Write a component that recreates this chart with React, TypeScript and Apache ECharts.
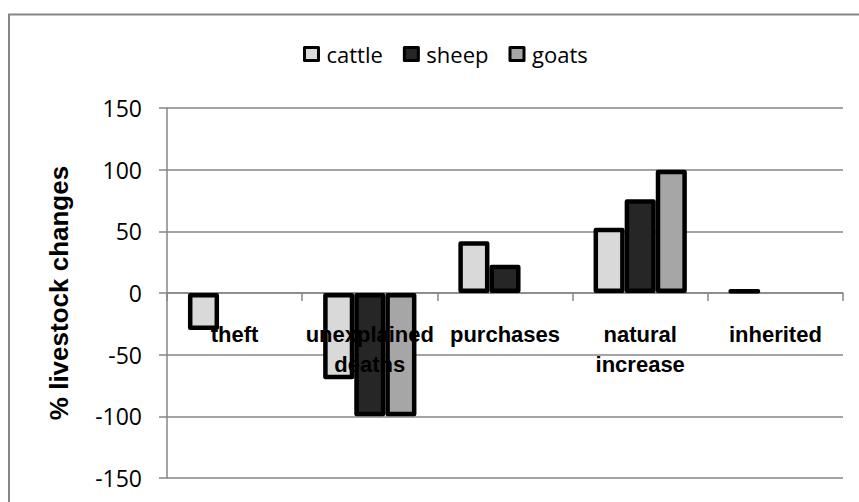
import React, { useEffect, useRef } from "react";
import * as echarts from "echarts";

const categories = ["theft", "unexplained\ndeaths", "purchases", "natural\nincrease", "inherited"];
const seriesNames = ["cattle", "sheep", "goats"];
const cattle = [-30, -70, 42, 53, 3];
const sheep = [null, -100, 23, 76, null];
const goats = [null, -100, null, 100, null];
const colors = ["#d9d9d9", "#262626", "#a6a6a6"];
const yTicks = { min: -150, max: 150, interval: 50 };

export default function App() {
  const ref = useRef<HTMLDivElement>(null);
  useEffect(() => {
    if (!ref.current) return;
    const chart = echarts.init(ref.current, null, { renderer: "svg" });
    const values = [cattle, sheep, goats];
    const gray = "#868686";
    const gridTop = 108;
    const gridBottom = 24;
    const plotH = 502 - gridTop - gridBottom;
    const zeroOffset = -plotH * (0 - yTicks.min) / (yTicks.max - yTicks.min);
    chart.setOption({
      animation: false,
      backgroundColor: "#ffffff",
      graphic: [
        {
          type: "rect",
          shape: { x: 9, y: 14.5, width: 900, height: 600 },
          style: { fill: "none", stroke: gray, lineWidth: 2 },
          silent: true,
        },
      ],
      legend: {
        left: 298,
        top: 38,
        itemWidth: 14,
        itemHeight: 13,
        itemGap: 20,
        icon: "rect",
        textStyle: { fontFamily: "'Open Sans', sans-serif", fontSize: 22, color: "#000", padding: [0, 0, 0, 3] },
        itemStyle: { borderColor: "#000", borderWidth: 3 },
        data: seriesNames,
      },
      grid: { left: 167, right: 16, top: gridTop, bottom: gridBottom, outerBoundsMode: "none", containLabel: false },
      xAxis: [
        {
          type: "category",
          data: categories,
          axisLine: { show: true, onZero: true, lineStyle: { color: gray, width: 1.5 } },
          axisTick: { show: true, length: 8, alignWithLabel: false, lineStyle: { color: gray, width: 1.5 } },
          axisLabel: { show: false },
          splitLine: { show: false },
        },
        {
          type: "category",
          data: categories,
          position: "bottom",
          offset: zeroOffset,
          z: 10,
          axisLine: { show: false, onZero: false },
          axisTick: { show: false },
          axisLabel: {
            interval: 0,
            margin: 26,
            color: "#000",
            fontFamily: "'Liberation Sans', Arial, sans-serif",
            fontWeight: "bold",
            fontSize: 22,
            lineHeight: 30,
          },
          splitLine: { show: false },
        },
      ],
      yAxis: {
        type: "value",
        min: yTicks.min,
        max: yTicks.max,
        interval: yTicks.interval,
        name: "% livestock changes",
        nameLocation: "middle",
        nameGap: 95,
        nameTextStyle: {
          fontFamily: "'Liberation Sans', Arial, sans-serif",
          fontWeight: "bold",
          fontSize: 26,
          color: "#000",
        },
        axisLine: { show: true, lineStyle: { color: gray, width: 1.5 } },
        axisTick: { show: true, length: 8, lineStyle: { color: gray, width: 1.5 } },
        axisLabel: {
          margin: 25,
          color: "#000",
          fontFamily: "'Open Sans', sans-serif",
          fontSize: 23,
        },
        splitLine: { show: true, lineStyle: { color: gray, width: 1.5 } },
      },
      series: seriesNames.map((name, i) => ({
        name,
        type: "bar",
        xAxisIndex: 0,
        data: values[i],
        barGap: "0%",
        barCategoryGap: "31%",
        itemStyle: {
          color: colors[i],
          borderColor: "#000",
          borderWidth: 4.5,
          borderJoin: "round",
        },
      })),
    });
    return () => chart.dispose();
  }, []);
  return (
    <div
      ref={ref}
      style={{ position: "fixed", left: 0, top: 0, width: 859, height: 502, background: "#fff" }}
    />
  );
}
